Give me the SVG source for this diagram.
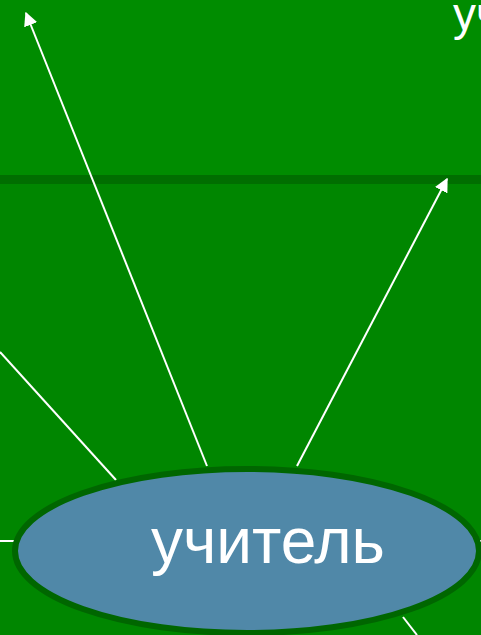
<svg xmlns="http://www.w3.org/2000/svg" width="481" height="635" viewBox="0 0 481 635">
<style>
.bg-top{fill:#008c00}
.bg-bot{fill:#008600}
.band{fill:#006e00}
.conn{stroke:#ffffff;stroke-width:2;fill:none}
.lbl{font-family:"Liberation Sans",Arial,sans-serif;fill:#ffffff}
</style>
<defs>
<marker id="arr" viewBox="0 0 10 10" refX="9" refY="5" markerWidth="7" markerHeight="7" orient="auto" markerUnits="strokeWidth">
<path d="M0,0 L10,5 L0,10 z" fill="#ffffff"/>
</marker>
</defs>
<rect class="bg-top" x="0" y="0" width="481" height="176"/>
<rect class="bg-bot" x="0" y="184" width="481" height="451"/>
<rect class="band" x="0" y="175" width="481" height="9"/>
<g id="connectors">
<line class="conn" x1="207" y1="466" x2="26" y2="13" marker-end="url(#arr)"/>
<line class="conn" x1="297" y1="466" x2="447" y2="179" marker-end="url(#arr)"/>
<line class="conn" x1="0" y1="352" x2="116" y2="480"/>
<line class="conn" x1="0" y1="541" x2="25" y2="541"/>
<line class="conn" x1="478" y1="541" x2="481" y2="541"/>
<line class="conn" x1="403" y1="617" x2="417" y2="635"/>
</g>
<g id="node-top-label">
<text class="lbl" x="453" y="30" font-size="46">уч</text>
</g>
<g id="node-teacher">
<ellipse cx="247" cy="551" rx="232" ry="82" fill="#5088a8" stroke="#006600" stroke-width="6"/>
<text class="lbl" x="151" y="563" font-size="64">учитель</text>
</g>
</svg>
